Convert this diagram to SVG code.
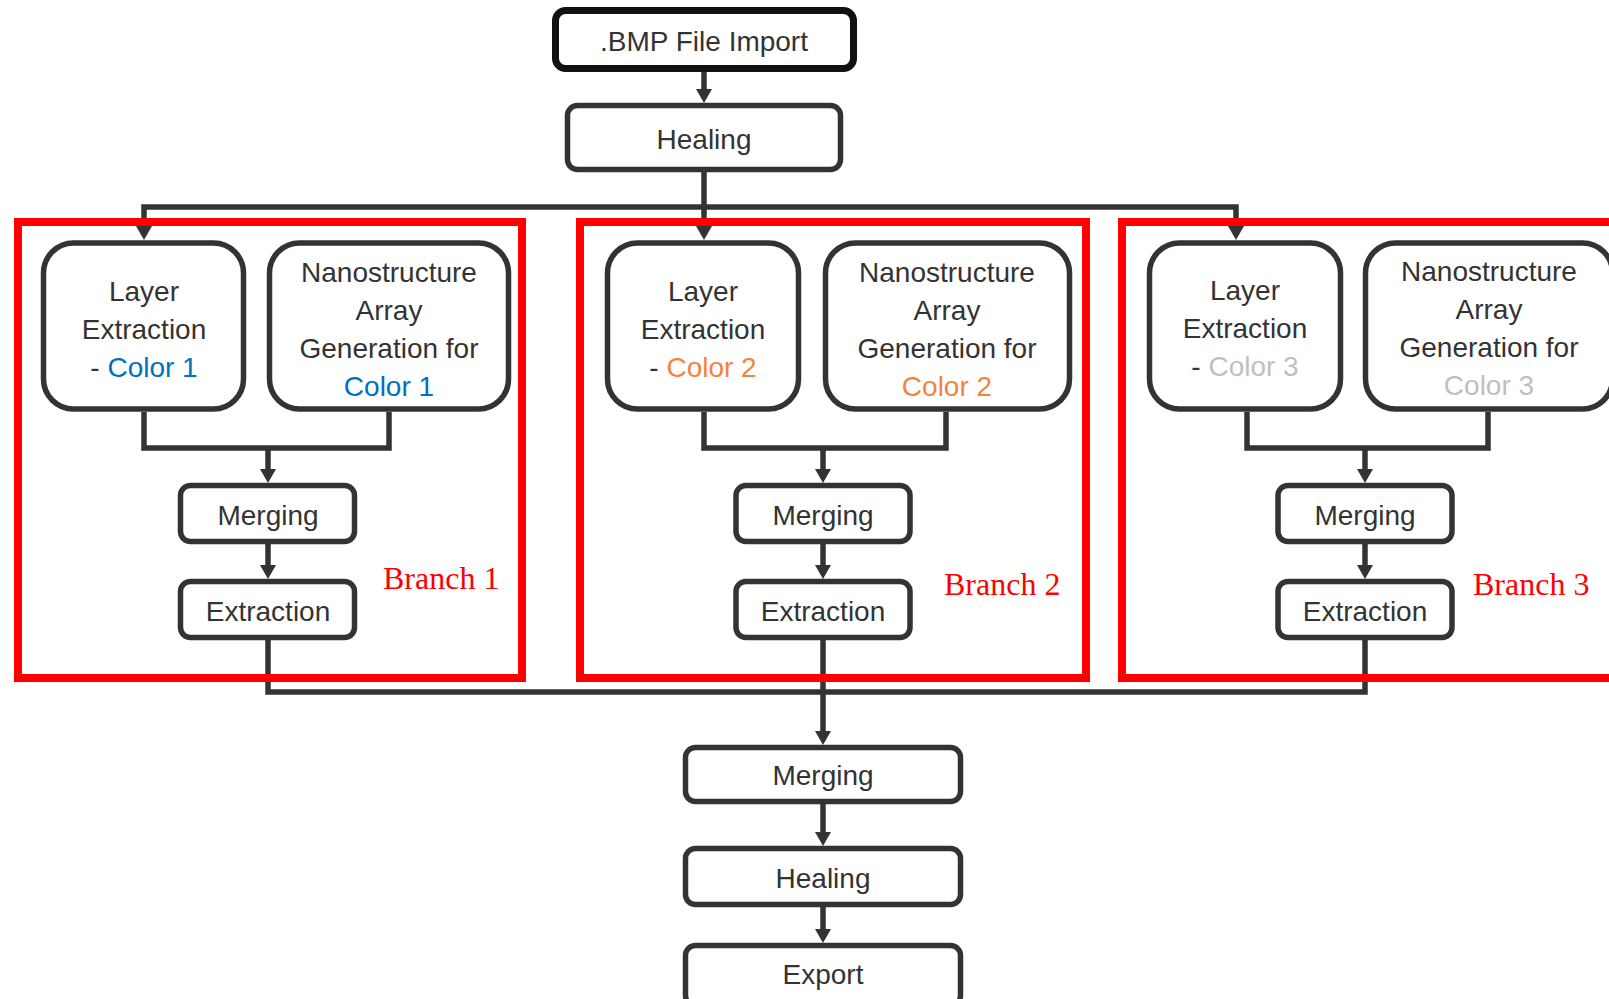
<svg xmlns="http://www.w3.org/2000/svg" width="1609" height="999" viewBox="0 0 1609 999">
<style>
.box{fill:#fff;stroke:#333;stroke-width:5.5}
.t{font-family:"Liberation Sans",Arial,sans-serif;font-size:28px;fill:#333;text-anchor:middle}
.c1{fill:#0070c0}
.c2{fill:#f7823e}
.c3{fill:#bfbfbf}
.br{fill:none;stroke:#ff0000;stroke-width:8}
.bl{font-family:"Liberation Serif","Times New Roman",serif;font-size:32px;fill:#ff0000}
.con{fill:none;stroke:#333;stroke-width:5.5}
</style>
<defs>
<marker id="arr" markerUnits="userSpaceOnUse" markerWidth="16" markerHeight="16" refX="0" refY="8" orient="auto-start-reverse">
<path d="M0,0 L14,8 L0,16 z" fill="#333"/>
</marker>
</defs>
<rect width="1609" height="999" fill="#fff"/>

<g id="connectors">
<path class="con" d="M704,72 V89" marker-end="url(#arr)"/>
<path class="con" d="M704,172 V226" marker-end="url(#arr)"/>
<path class="con" d="M144,226 V207 H1236 V226" marker-start="url(#arr)" marker-end="url(#arr)"/>
<path class="con" d="M144,412 V448 H389 V412"/>
<path class="con" d="M268,448 V469" marker-end="url(#arr)"/>
<path class="con" d="M268,544 V565" marker-end="url(#arr)"/>
<path class="con" d="M704,412 V448 H946 V412"/>
<path class="con" d="M823,448 V469" marker-end="url(#arr)"/>
<path class="con" d="M823,544 V565" marker-end="url(#arr)"/>
<path class="con" d="M1247,412 V448 H1488 V412"/>
<path class="con" d="M1365,448 V469" marker-end="url(#arr)"/>
<path class="con" d="M1365,544 V565" marker-end="url(#arr)"/>
<path class="con" d="M268,640 V692 H1365 V640"/>
<path class="con" d="M823,640 V731" marker-end="url(#arr)"/>
<path class="con" d="M823,803 V832" marker-end="url(#arr)"/>
<path class="con" d="M823,907 V929" marker-end="url(#arr)"/>
</g>

<g id="import">
<rect x="555.5" y="10.5" width="298" height="58" rx="10" fill="#fff" stroke="#111" stroke-width="7"/>
<text class="t" x="704" y="51">.BMP File Import</text>
</g>
<g id="healing1">
<rect class="box" x="567.5" y="105.5" width="273" height="64" rx="10"/>
<text class="t" x="704" y="149">Healing</text>
</g>

<g id="layer1">
<rect class="box" x="43.5" y="243" width="200" height="166" rx="30"/>
<text class="t" x="144" y="301">Layer</text>
<text class="t" x="144" y="339">Extraction</text>
<text class="t" x="144" y="377">- <tspan class="c1">Color 1</tspan></text>
</g>
<g id="nano1">
<rect class="box" x="269.5" y="243" width="239" height="166" rx="30"/>
<text class="t" x="389" y="282">Nanostructure</text>
<text class="t" x="389" y="320">Array</text>
<text class="t" x="389" y="358">Generation for</text>
<text class="t c1" x="389" y="396">Color 1</text>
</g>
<g id="merge1">
<rect class="box" x="180.5" y="485.5" width="174" height="56" rx="10"/>
<text class="t" x="268" y="525">Merging</text>
</g>
<g id="extract1">
<rect class="box" x="180.5" y="581.5" width="174" height="56" rx="10"/>
<text class="t" x="268" y="621">Extraction</text>
</g>

<g id="layer2">
<rect class="box" x="607.5" y="243" width="191" height="166" rx="30"/>
<text class="t" x="703" y="301">Layer</text>
<text class="t" x="703" y="339">Extraction</text>
<text class="t" x="703" y="377">- <tspan class="c2">Color 2</tspan></text>
</g>
<g id="nano2">
<rect class="box" x="825.5" y="243" width="244" height="166" rx="30"/>
<text class="t" x="947" y="282">Nanostructure</text>
<text class="t" x="947" y="320">Array</text>
<text class="t" x="947" y="358">Generation for</text>
<text class="t c2" x="947" y="396">Color 2</text>
</g>
<g id="merge2">
<rect class="box" x="736" y="485.5" width="174" height="56" rx="10"/>
<text class="t" x="823" y="525">Merging</text>
</g>
<g id="extract2">
<rect class="box" x="736" y="581.5" width="174" height="56" rx="10"/>
<text class="t" x="823" y="621">Extraction</text>
</g>

<g id="layer3">
<rect class="box" x="1149.5" y="243" width="191" height="166" rx="30"/>
<text class="t" x="1245" y="300">Layer</text>
<text class="t" x="1245" y="338">Extraction</text>
<text class="t" x="1245" y="376">- <tspan class="c3">Color 3</tspan></text>
</g>
<g id="nano3">
<rect class="box" x="1365.5" y="243" width="247" height="166" rx="30"/>
<text class="t" x="1489" y="281">Nanostructure</text>
<text class="t" x="1489" y="319">Array</text>
<text class="t" x="1489" y="357">Generation for</text>
<text class="t c3" x="1489" y="395">Color 3</text>
</g>
<g id="merge3">
<rect class="box" x="1278" y="485.5" width="174" height="56" rx="10"/>
<text class="t" x="1365" y="525">Merging</text>
</g>
<g id="extract3">
<rect class="box" x="1278" y="581.5" width="174" height="56" rx="10"/>
<text class="t" x="1365" y="621">Extraction</text>
</g>

<g id="merge-final">
<rect class="box" x="685.5" y="747.5" width="275" height="54" rx="10"/>
<text class="t" x="823" y="785">Merging</text>
</g>
<g id="healing-final">
<rect class="box" x="685.5" y="848.5" width="275" height="56" rx="10"/>
<text class="t" x="823" y="888">Healing</text>
</g>
<g id="export">
<rect class="box" x="685.5" y="945.5" width="275" height="60" rx="10"/>
<text class="t" x="823" y="984">Export</text>
</g>

<g id="branches">
<rect class="br" x="18" y="222" width="504" height="456"/>
<text class="bl" x="383" y="589">Branch 1</text>
<rect class="br" x="580" y="222" width="506" height="456"/>
<text class="bl" x="944" y="595">Branch 2</text>
<rect class="br" x="1122" y="222" width="520" height="456"/>
<text class="bl" x="1473" y="595">Branch 3</text>
</g>
</svg>
